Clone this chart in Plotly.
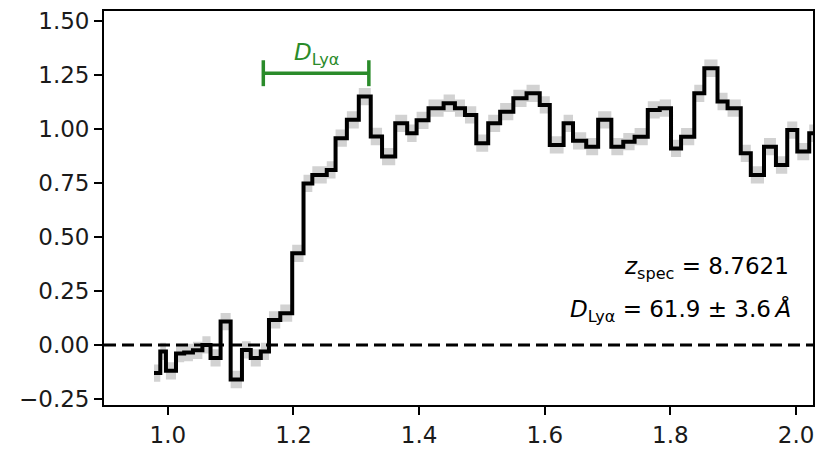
import plotly.graph_objects as go

# Spectrum bins (observed wavelength, micron) and normalised flux per bin
bin_edges = [0.978, 0.988, 0.997, 1.013, 1.026, 1.040, 1.055, 1.068, 1.084, 1.100,
             1.118, 1.132, 1.148, 1.161, 1.179, 1.198, 1.216, 1.230, 1.253, 1.267,
             1.285, 1.304, 1.323, 1.341, 1.362, 1.381, 1.396, 1.415, 1.439, 1.457,
             1.473, 1.491, 1.510, 1.529, 1.550, 1.571, 1.592, 1.608, 1.630, 1.645,
             1.666, 1.685, 1.706, 1.725, 1.743, 1.764, 1.783, 1.801, 1.817, 1.838,
             1.854, 1.875, 1.891, 1.912, 1.928, 1.949, 1.968, 1.986, 2.002, 2.021,
             2.040]
flux = [-0.13, -0.03, -0.12, -0.04, -0.035, -0.025, 0.0, -0.06, 0.108, -0.16,
        -0.023, -0.06, -0.03, 0.116, 0.147, 0.424, 0.748, 0.787, 0.81, 0.957,
        1.042, 1.15, 0.965, 0.872, 1.026, 0.98, 1.04, 1.096, 1.119, 1.096,
        1.065, 0.934, 1.026, 1.08, 1.142, 1.165, 1.111, 0.926, 1.026, 0.945,
        0.918, 1.042, 0.918, 0.941, 0.964, 1.088, 1.096, 0.910, 0.964, 1.165,
        1.281, 1.127, 1.096, 0.887, 0.787, 0.918, 0.833, 0.995, 0.895, 0.98]
flux_err = 0.04

# Damping-wing width marker
dlya_range = [1.152, 1.320]
dlya_level = 1.258
dlya_cap = 0.06

x_ticks = [1.0, 1.2, 1.4, 1.6, 1.8, 2.0]
y_ticks = [-0.25, 0.0, 0.25, 0.5, 0.75, 1.0, 1.25, 1.5]

z_spec_text = "<i>z</i><sub>spec</sub> = 8.7621"
dlya_text = "<i>D</i><sub>Lyα</sub> = 61.9 ± 3.6\u2009<i>Å</i>"

green = "#2a8b2a"
step_y = flux + [flux[-1]]
lower = [v - flux_err for v in step_y]
upper = [v + flux_err for v in step_y]

fig = go.Figure()
fig.add_trace(go.Scatter(x=bin_edges, y=lower, mode="lines", line=dict(shape="hv", width=0, color="#cccccc"),
                         hoverinfo="skip"))
fig.add_trace(go.Scatter(x=bin_edges, y=upper, mode="lines", line=dict(shape="hv", width=0, color="#cccccc"),
                         fill="tonexty", fillcolor="#d2d2d2", hoverinfo="skip"))
fig.add_trace(go.Scatter(x=bin_edges, y=step_y, mode="lines", line=dict(shape="hv", width=4, color="black")))

fig.add_hline(y=0, line=dict(color="black", width=3, dash="12px,6px"))

x0, x1 = dlya_range
fig.add_trace(go.Scatter(
    x=[x0, x0, None, x0, x1, None, x1, x1],
    y=[dlya_level - dlya_cap, dlya_level + dlya_cap, None, dlya_level, dlya_level, None,
       dlya_level - dlya_cap, dlya_level + dlya_cap],
    mode="lines", line=dict(color=green, width=3.5), hoverinfo="skip"))
fig.add_annotation(x=(x0 + x1) / 2, y=dlya_level + 0.01, xref="x", yref="y",
                   text="<i>D</i><sub>Lyα</sub>", showarrow=False, yanchor="bottom",
                   font=dict(color=green, size=23, family="DejaVu Sans"))

fig.add_annotation(x=0.969, y=0.348, xref="paper", yref="paper", text=z_spec_text,
                   showarrow=False, xanchor="right", yanchor="middle",
                   font=dict(size=23, family="DejaVu Sans", color="black"))
fig.add_annotation(x=0.972, y=0.241, xref="paper", yref="paper", text=dlya_text,
                   showarrow=False, xanchor="right", yanchor="middle",
                   font=dict(size=23, family="DejaVu Sans", color="black"))

axis_common = dict(showline=True, linecolor="black", linewidth=1.8, mirror=True,
                   ticks="outside", ticklen=8, tickwidth=1.6, tickcolor="black",
                   showgrid=False, zeroline=False)
fig.update_xaxes(range=[0.8984, 2.027], tickvals=x_ticks, tickformat=".1f", **axis_common)
fig.update_yaxes(range=[-0.278, 1.546], tickvals=y_ticks, tickformat=".2f", **axis_common)

fig.update_layout(width=820, height=454, margin=dict(l=104, r=5, t=11, b=49),
                  plot_bgcolor="white", paper_bgcolor="white", showlegend=False,
                  font=dict(family="DejaVu Sans", size=23, color="#1a1a1a"))

fig.write_html("out.html")
